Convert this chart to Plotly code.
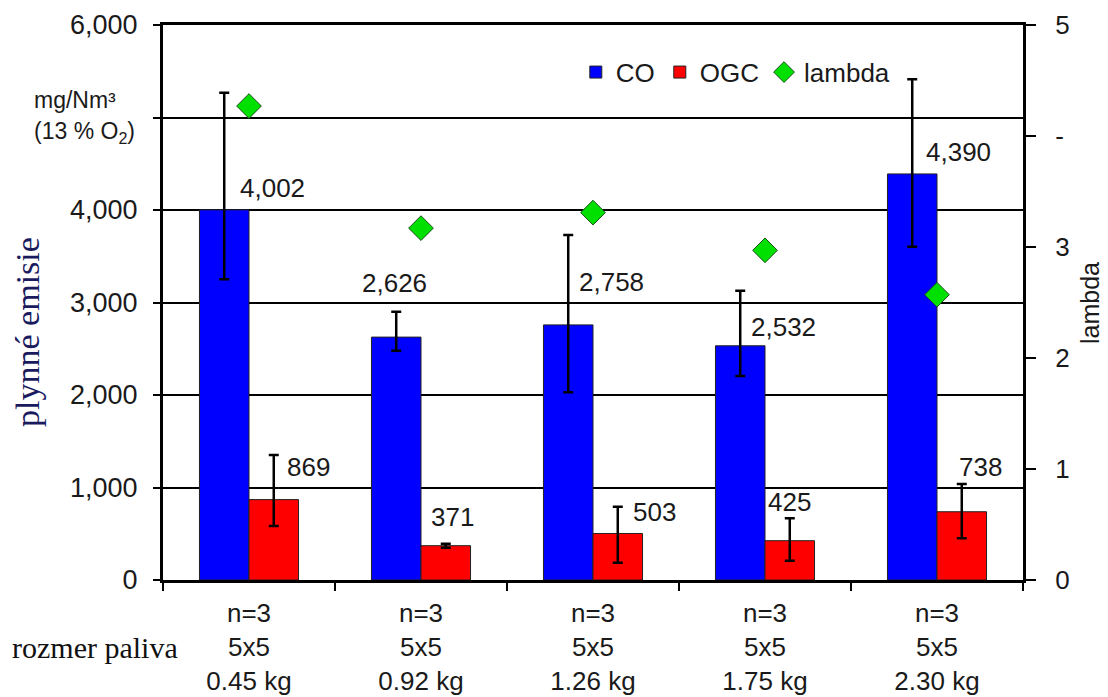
import plotly.graph_objects as go

categories = ["0.45 kg", "0.92 kg", "1.26 kg", "1.75 kg", "2.30 kg"]
tick_labels = ["n=3<br>5x5<br>0.45 kg", "n=3<br>5x5<br>0.92 kg", "n=3<br>5x5<br>1.26 kg",
               "n=3<br>5x5<br>1.75 kg", "n=3<br>5x5<br>2.30 kg"]
co_values = [4002, 2626, 2758, 2532, 4390]
co_err_plus = [1266, 275, 972, 596, 1023]
co_err_minus = [751, 147, 729, 327, 787]
ogc_values = [869, 371, 503, 425, 738]
ogc_err_plus = [482, 20, 289, 242, 300]
ogc_err_minus = [285, 22, 316, 216, 287]
lambda_values = [4.27, 3.17, 3.31, 2.97, 2.57]
left_tick_vals = [0, 1000, 2000, 3000, 4000, 5000, 6000]
left_tick_text = ["0", "1,000", "2,000", "3,000", "4,000", "", "6,000"]
right_tick_vals = [0, 1, 2, 3, 4, 5]
right_tick_text = ["0", "1", "2", "3", "-", "5"]

# label offsets (pixels) relative to category centre / bar top
co_label_shift = [(23, 22), (-27, 54), (18, 43), (18, 19), (21, 22)]
ogc_label_shift = [(59, 33), (31, 29), (61, 21), (24, 39), (43, 45)]

FONT = "Liberation Sans, Arial, sans-serif"
SERIF = "Liberation Serif, Times New Roman, serif"
TXT = "#1a1a1a"

fig = go.Figure()
fig.add_trace(go.Bar(
    x=categories, y=co_values, name="CO",
    marker=dict(color="#0000FF", line=dict(color="#222", width=1)),
    error_y=dict(type="data", symmetric=False, array=co_err_plus, arrayminus=co_err_minus,
                 color="black", thickness=2.5, width=5),
))
fig.add_trace(go.Bar(
    x=categories, y=ogc_values, name="OGC",
    marker=dict(color="#FF0000", line=dict(color="#222", width=1)),
    error_y=dict(type="data", symmetric=False, array=ogc_err_plus, arrayminus=ogc_err_minus,
                 color="black", thickness=2.5, width=5),
))
fig.add_trace(go.Scatter(
    x=categories, y=lambda_values, name="lambda", yaxis="y2", mode="markers",
    marker=dict(symbol="diamond", size=19, color="#00E000", line=dict(color="#1a4d1a", width=1)),
))

annotations = []
for i, c in enumerate(categories):
    dx, dy = co_label_shift[i]
    annotations.append(dict(x=c, y=co_values[i], xref="x", yref="y", text=f"{co_values[i]:,}",
                            showarrow=False, xshift=dx, yshift=dy, xanchor="center", yanchor="middle",
                            font=dict(family=FONT, size=26, color=TXT)))
    dx, dy = ogc_label_shift[i]
    annotations.append(dict(x=c, y=ogc_values[i], xref="x", yref="y", text=f"{ogc_values[i]:,}",
                            showarrow=False, xshift=dx, yshift=dy, xanchor="center", yanchor="middle",
                            font=dict(family=FONT, size=26, color=TXT)))

annotations += [
    dict(x=0, y=0.865, xref="paper", yref="paper", xshift=-131, text="mg/Nm³", showarrow=False,
         xanchor="left", yanchor="middle", font=dict(family=FONT, size=23, color=TXT)),
    dict(x=0, y=0.807, xref="paper", yref="paper", xshift=-131, text="(13 % O<sub>2</sub>)", showarrow=False,
         xanchor="left", yanchor="middle", font=dict(family=FONT, size=23, color=TXT)),
    dict(x=0, y=0.447, xref="paper", yref="paper", xshift=-135, text="plynné emisie", showarrow=False,
         textangle=-90, xanchor="center", yanchor="middle", font=dict(family=SERIF, size=34, color="#1a1a5e")),
    dict(x=0, y=-0.1225, xref="paper", yref="paper", xshift=-153, text="rozmer paliva", showarrow=False,
         xanchor="left", yanchor="middle", font=dict(family=SERIF, size=30, color="#111")),
    dict(x=1, y=0.499, xref="paper", yref="paper", xshift=67, text="lambda", showarrow=False,
         textangle=-90, xanchor="center", yanchor="middle", font=dict(family=FONT, size=25, color=TXT)),
]

fig.update_layout(
    width=1108, height=697, autosize=False,
    margin=dict(l=155, r=93, t=17, b=125, autoexpand=False),
    paper_bgcolor="white", plot_bgcolor="white",
    barmode="group", bargap=0.424, bargroupgap=0,
    font=dict(family=FONT, size=26, color=TXT),
    showlegend=True,
    legend=dict(orientation="h", x=0.48, y=0.915, xanchor="left", yanchor="middle",
                font=dict(family=FONT, size=26, color=TXT), bgcolor="rgba(0,0,0,0)",
                itemwidth=30, tracegroupgap=0),
    xaxis=dict(type="category", tickvals=categories, ticktext=tick_labels, automargin=False,
               showline=True, linecolor="black", linewidth=3, mirror=True,
               ticks="outside", tickson="boundaries", ticklen=8, tickcolor="black", tickwidth=2,
               ticklabelstandoff=8,
               showgrid=False, tickfont=dict(family=FONT, size=26, color=TXT)),
    yaxis=dict(range=[0, 6000], tickvals=left_tick_vals, ticktext=left_tick_text, automargin=False,
               showline=True, linecolor="black", linewidth=3,
               ticks="outside", ticklen=7, tickcolor="black", tickwidth=2, ticklabelstandoff=10,
               showgrid=True, gridcolor="black", gridwidth=2, zeroline=False,
               tickfont=dict(family=FONT, size=27, color=TXT)),
    yaxis2=dict(range=[0, 5], overlaying="y", side="right", tickvals=right_tick_vals, ticktext=right_tick_text,
                automargin=False,
                showline=True, linecolor="black", linewidth=3,
                ticks="outside", ticklen=10, tickcolor="black", tickwidth=2, ticklabelstandoff=14,
                showgrid=False, zeroline=False,
                tickfont=dict(family=FONT, size=26, color=TXT)),
    annotations=annotations,
)

fig.write_html("out.html")
